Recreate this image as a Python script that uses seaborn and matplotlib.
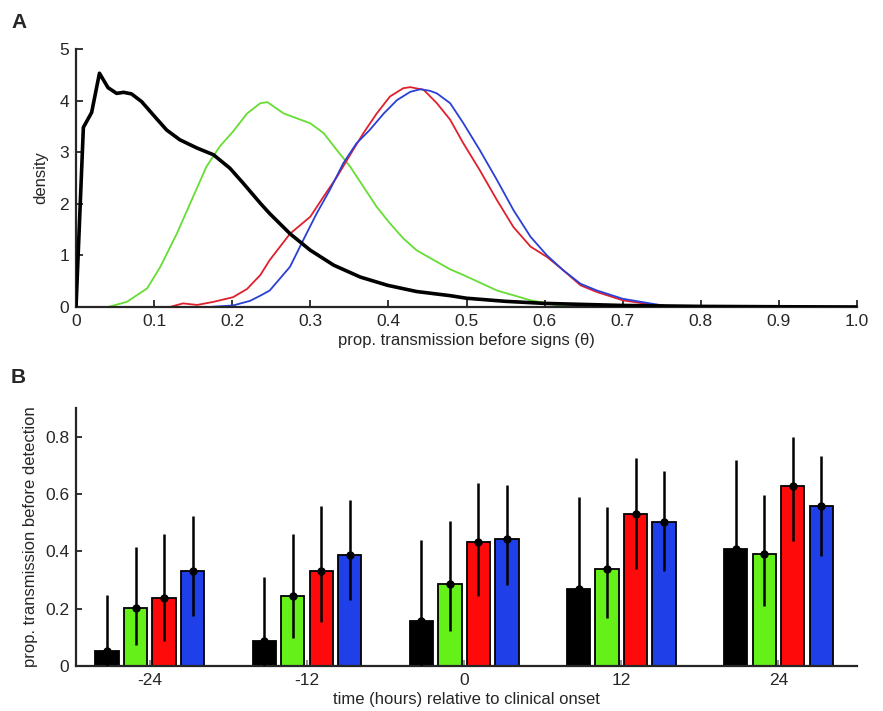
import numpy as np
import pandas as pd
import seaborn as sns
from matplotlib import pyplot as plt

# ---- panel A: posterior densities of theta ----
black_x = [0, 0.0094, 0.020, 0.030, 0.041, 0.052, 0.061, 0.071, 0.084, 0.099, 0.116, 0.133,
           0.155, 0.176, 0.197, 0.214, 0.236, 0.248, 0.274, 0.300, 0.330, 0.364, 0.399, 0.436,
           0.479, 0.50, 0.55, 0.60, 0.70, 0.80, 0.90, 1.0]
black_y = [0, 3.48, 3.77, 4.53, 4.25, 4.14, 4.16, 4.13, 3.98, 3.72, 3.43, 3.24,
           3.08, 2.95, 2.69, 2.40, 2.01, 1.81, 1.42, 1.10, 0.81, 0.58, 0.42, 0.30,
           0.22, 0.17, 0.11, 0.07, 0.03, 0.012, 0.005, 0.0]

green_x = [0, 0.041, 0.065, 0.091, 0.108, 0.129, 0.150, 0.167, 0.184, 0.201, 0.219, 0.236,
           0.245, 0.266, 0.300, 0.317, 0.334, 0.351, 0.368, 0.385, 0.402, 0.419, 0.436,
           0.458, 0.479, 0.496, 0.539, 0.582, 0.60, 0.62, 0.65, 1.0]
green_y = [0, 0, 0.10, 0.36, 0.78, 1.42, 2.14, 2.72, 3.11, 3.40, 3.75, 3.95,
           3.97, 3.75, 3.56, 3.37, 3.04, 2.72, 2.33, 1.94, 1.62, 1.33, 1.10,
           0.91, 0.73, 0.62, 0.32, 0.13, 0.08, 0.02, 0, 0]

red_x = [0, 0.12, 0.137, 0.155, 0.176, 0.201, 0.219, 0.236, 0.248, 0.274, 0.300, 0.317,
         0.334, 0.351, 0.368, 0.385, 0.402, 0.419, 0.428, 0.445, 0.462, 0.479, 0.496, 0.517,
         0.539, 0.560, 0.582, 0.603, 0.624, 0.646, 0.667, 0.70, 0.735, 0.757, 1.0]
red_y = [0, 0, 0.07, 0.04, 0.10, 0.19, 0.35, 0.62, 0.91, 1.42, 1.75, 2.14,
         2.52, 2.95, 3.37, 3.75, 4.08, 4.24, 4.26, 4.21, 3.95, 3.63, 3.17, 2.65,
         2.07, 1.55, 1.17, 0.97, 0.71, 0.42, 0.29, 0.13, 0.05, 0, 0]

blue_x = [0, 0.17, 0.201, 0.223, 0.236, 0.248, 0.274, 0.291, 0.308, 0.325, 0.342, 0.359,
          0.376, 0.394, 0.411, 0.428, 0.441, 0.453, 0.462, 0.479, 0.496, 0.517, 0.539, 0.560,
          0.582, 0.603, 0.624, 0.646, 0.667, 0.70, 0.735, 0.76, 0.78, 1.0]
blue_y = [0, 0, 0.03, 0.12, 0.22, 0.32, 0.78, 1.30, 1.81, 2.27, 2.78, 3.17,
          3.43, 3.75, 4.01, 4.17, 4.22, 4.19, 4.14, 3.95, 3.56, 3.04, 2.46, 1.88,
          1.36, 1.00, 0.71, 0.45, 0.32, 0.16, 0.07, 0.01, 0, 0]

# ---- panel B: proportion of transmission before detection ----
groups = ['-24', '-12', '0', '12', '24']
series = ['black', 'green', 'red', 'blue']
bar_mean = {
    'black': [0.051, 0.086, 0.158, 0.267, 0.409],
    'green': [0.203, 0.245, 0.286, 0.339, 0.390],
    'red':   [0.238, 0.332, 0.432, 0.529, 0.628],
    'blue':  [0.331, 0.387, 0.444, 0.504, 0.559],
}
bar_lo = {
    'black': [0.0, 0.0, 0.0, 0.04, 0.14],
    'green': [0.072, 0.099, 0.121, 0.167, 0.209],
    'red':   [0.086, 0.153, 0.244, 0.337, 0.437],
    'blue':  [0.173, 0.229, 0.284, 0.331, 0.383],
}
bar_hi = {
    'black': [0.246, 0.312, 0.441, 0.591, 0.719],
    'green': [0.415, 0.461, 0.505, 0.554, 0.595],
    'red':   [0.461, 0.557, 0.638, 0.725, 0.799],
    'blue':  [0.523, 0.580, 0.633, 0.681, 0.732],
}

line_colors = {'black': '#000000', 'green': '#66dd33', 'red': '#e0202c', 'blue': '#2a3fd6'}
bar_colors = {'black': '#000000', 'green': '#66f01a', 'red': '#ff0a0a', 'blue': '#1f3fe8'}

sns.set_style('ticks')
plt.rcParams['font.family'] = ['Liberation Sans', 'DejaVu Sans']

fig = plt.figure(figsize=(8.83, 7.11), dpi=100)
axA = fig.add_axes([0.0861, 0.5682, 0.8845, 0.3629])
axB = fig.add_axes([0.0861, 0.0633, 0.8845, 0.3629])

curves = [('black', black_x, black_y), ('green', green_x, green_y),
          ('red', red_x, red_y), ('blue', blue_x, blue_y)]
for name, xs, ys in curves:
    df = pd.DataFrame({'theta': xs, 'density': ys})
    lw = 2.6 if name == 'black' else 1.3
    sns.lineplot(data=df, x='theta', y='density', ax=axA, color=line_colors[name],
                 linewidth=lw, zorder=3 if name == 'black' else 2)

axA.set_xlim(0, 1.0)
axA.set_ylim(0, 5)
axA.set_xticks(np.arange(0, 1.01, 0.1))
axA.set_xticklabels(['0'] + ['%.1f' % v for v in np.arange(0.1, 1.01, 0.1)])
axA.set_yticks(range(6))
axA.set_xlabel('prop. transmission before signs (\u03b8)', fontsize=12, labelpad=3)
axA.set_ylabel('density', fontsize=12, labelpad=8)
axA.tick_params(direction='in', length=5, width=1.3, labelsize=12.5, pad=5)
sns.despine(ax=axA)
for s in ['left', 'bottom']:
    axA.spines[s].set_linewidth(1.6)

rows = []
for s in series:
    for g, v in zip(groups, bar_mean[s]):
        rows.append({'time': g, 'series': s, 'prop': v})
bars = pd.DataFrame(rows)

sns.barplot(data=bars, x='time', y='prop', hue='series', order=groups, hue_order=series,
            palette=bar_colors, saturation=1, width=0.725, gap=0.18, errorbar=None,
            edgecolor='black', linewidth=1.3, ax=axB, legend=False)

for s, cont in zip(series, axB.containers):
    xs = np.array([p.get_x() + p.get_width() / 2 for p in cont])
    m = np.array(bar_mean[s])
    lo = np.array(bar_lo[s])
    hi = np.array(bar_hi[s])
    axB.errorbar(xs, m, yerr=[m - lo, hi - m], fmt='o', color='black', ms=5,
                 elinewidth=1.8, capsize=0, zorder=5)

axB.set_xlim(-0.47, 4.5)
axB.set_ylim(0, 0.9)
axB.set_yticks([0, 0.2, 0.4, 0.6, 0.8])
axB.set_yticklabels(['0', '0.2', '0.4', '0.6', '0.8'])
axB.set_xlabel('time (hours) relative to clinical onset', fontsize=12, labelpad=3)
axB.set_ylabel('prop. transmission before detection', fontsize=12, labelpad=5)
axB.tick_params(axis='y', direction='in', length=4, width=1.3, labelsize=12.5, pad=5)
axB.tick_params(axis='x', direction='in', length=4, width=1.2, color='grey',
                labelsize=12.5, pad=5)
sns.despine(ax=axB)
for s in ['left', 'bottom']:
    axB.spines[s].set_linewidth(1.6)

fig.text(11 / 883, 1 - 22 / 711, 'A', fontsize=15, fontweight='bold', va='center')
fig.text(11 / 883, 1 - 378 / 711, 'B', fontsize=15, fontweight='bold', va='center')

plt.savefig('out.png', dpi=100)
